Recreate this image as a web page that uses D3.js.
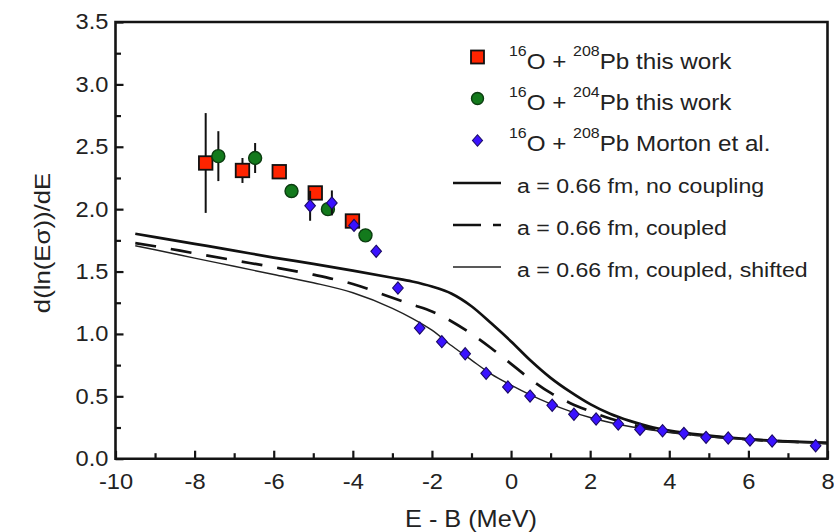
<!DOCTYPE html>
<html>
<head>
<meta charset="utf-8">
<script src="https://cdn.jsdelivr.net/npm/d3@7"></script>
<style>
  html, body { margin: 0; padding: 0; background: #fff; }
  svg { display: block; font-family: "Liberation Sans", Arial, Helvetica, sans-serif; }
</style>
</head>
<body>
<svg id="chart" width="834" height="532"></svg>
<script>
// ---- measured points ----
// 16O + 208Pb, this work
const pb208X   = [-7.72, -6.79, -5.86, -4.95, -4.01];
const pb208Y   = [2.37, 2.31, 2.30, 2.13, 1.905];
const pb208Err = [0.40, 0.10, 0, 0, 0];

// 16O + 204Pb, this work
const pb204X   = [-7.40, -6.47, -5.55, -4.63, -3.68];
const pb204Y   = [2.425, 2.41, 2.145, 2.00, 1.79];
const pb204Err = [0.20, 0.12, 0, 0, 0];

// 16O + 208Pb, Morton et al.
const mortonX   = [-5.08, -4.53, -3.97, -3.41, -2.86, -2.31, -1.75, -1.16, -0.63, -0.08, 0.48, 1.04,
                   1.59, 2.15, 2.71, 3.26, 3.83, 4.37, 4.93, 5.49, 6.04, 6.60, 7.70];
const mortonY   = [2.027, 2.05, 1.87, 1.662, 1.368, 1.047, 0.938, 0.841, 0.684, 0.575, 0.502, 0.428,
                   0.356, 0.318, 0.278, 0.235, 0.224, 0.203, 0.171, 0.166, 0.150, 0.142, 0.104];
const mortonErr = [0.12, 0.10, 0, 0, 0, 0, 0, 0, 0, 0, 0, 0, 0, 0, 0, 0, 0, 0, 0, 0, 0, 0, 0];

// ---- calculations (a = 0.66 fm) ----
const calcE      = [-9.5, -9, -8, -7, -6, -5, -4, -3, -2.5, -2, -1.5, -1, -0.5, 0, 0.5, 1, 1.5, 2, 2.5, 3, 3.5, 4, 5, 6, 7, 8];
const noCoupling = [1.803, 1.776, 1.722, 1.668, 1.612, 1.562, 1.508, 1.45, 1.42, 1.38, 1.322, 1.222, 1.085, 0.94,
                    0.785, 0.648, 0.535, 0.437, 0.36, 0.303, 0.258, 0.226, 0.186, 0.157, 0.139, 0.127];
const coupled    = [1.728, 1.703, 1.646, 1.59, 1.535, 1.475, 1.40, 1.29, 1.235, 1.18, 1.10, 1.00, 0.885, 0.76,
                    0.635, 0.527, 0.445, 0.38, 0.322, 0.277, 0.243, 0.217, 0.181, 0.154, 0.137, 0.125];
const shifted    = [1.707, 1.675, 1.608, 1.542, 1.476, 1.41, 1.33, 1.205, 1.125, 1.03, 0.905, 0.79, 0.678, 0.59,
                    0.51, 0.44, 0.38, 0.33, 0.29, 0.258, 0.232, 0.21, 0.176, 0.151, 0.133, 0.121];

// ---- axes ----
const xMajor = [-10, -8, -6, -4, -2, 0, 2, 4, 6, 8];
const xMinor = [-9, -7, -5, -3, -1, 1, 3, 5, 7];
const yMajor = [0, 0.5, 1.0, 1.5, 2.0, 2.5, 3.0, 3.5];
const yMinor = [0.25, 0.75, 1.25, 1.75, 2.25, 2.75, 3.25];

const legendLabels = [
  ["16", "O + ", "208", "Pb this work"],
  ["16", "O + ", "204", "Pb this work"],
  ["16", "O + ", "208", "Pb Morton et al."],
  "a = 0.66 fm, no coupling",
  "a = 0.66 fm, coupled",
  "a = 0.66 fm, coupled, shifted"
];

const xTitle = "E - B (MeV)";
const yTitle = "d(ln(E\u03C3))/dE";

// ---- layout ----
const plotLeft = 115.5, plotRight = 827.5, plotTop = 22, plotBottom = 458.7;
const stretch = 1.1;   // glyphs are a little wide in this figure style
const ink = "#141414";

const svg = d3.select("#chart");
const x = d3.scaleLinear().domain([-10, 8]).range([plotLeft, plotRight]);
const y = d3.scaleLinear().domain([0, 3.5]).range([plotBottom, plotTop]);

// axes with inward ticks (plain hyphen for negative numbers)
const gx = svg.append("g").attr("transform", `translate(0,${plotBottom})`)
  .call(d3.axisBottom(x).tickValues(xMajor).tickSize(-8).tickPadding(15).tickFormat(d => String(d)));
svg.append("g").attr("transform", `translate(0,${plotBottom})`)
  .call(d3.axisBottom(x).tickValues(xMinor).tickSize(-5.5).tickFormat(""));
const gy = svg.append("g").attr("transform", `translate(${plotLeft},0)`)
  .call(d3.axisLeft(y).tickValues(yMajor).tickSize(-8).tickPadding(7).tickFormat(d => d.toFixed(1)));
svg.append("g").attr("transform", `translate(${plotLeft},0)`)
  .call(d3.axisLeft(y).tickValues(yMinor).tickSize(-5.5).tickFormat(""));

svg.selectAll(".domain").remove();
svg.selectAll(".tick line").attr("stroke", ink).attr("stroke-width", 2.2);
svg.selectAll(".tick text")
  .attr("font-family", "'Liberation Sans', Arial, sans-serif")
  .attr("font-size", 21.5).attr("fill", "#222")
  .attr("transform", `scale(${stretch},1)`);
gy.selectAll(".tick text").attr("x", -7 / stretch);

// axis titles
svg.append("text")
  .attr("transform", `translate(${(plotLeft + plotRight) / 2 - 0.5},527) scale(${stretch},1)`)
  .attr("text-anchor", "middle").attr("font-size", 23).attr("fill", "#222")
  .text(xTitle);
svg.append("text")
  .attr("transform", `translate(50,243) rotate(-90) scale(1.12,1)`)
  .attr("text-anchor", "middle").attr("font-size", 23).attr("fill", "#222")
  .text(yTitle);

// ---- calculated curves ----
const plot = svg.append("g");
const line = d3.line().x(d => x(d[0])).y(d => y(d[1])).curve(d3.curveMonotoneX);
const pairs = vals => calcE.map((e, i) => [e, vals[i]]);

plot.append("path").datum(pairs(noCoupling)).attr("d", line)
  .attr("fill", "none").attr("stroke", "#111").attr("stroke-width", 2.7);
plot.append("path").datum(pairs(coupled)).attr("d", line)
  .attr("fill", "none").attr("stroke", "#111").attr("stroke-width", 2.7)
  .attr("stroke-dasharray", "21,15");
plot.append("path").datum(pairs(shifted)).attr("d", line)
  .attr("fill", "none").attr("stroke", "#222").attr("stroke-width", 1.4);

// ---- measured points ----
const diamond = s => `M0,${-s * 1.15}L${s},0L0,${s * 1.15}L${-s},0Z`;
const zip = (xs, ys, es) => xs.map((v, i) => ({ x: v, y: ys[i], e: es[i] }));

function errorBars(data) {
  plot.append("g").selectAll("line").data(data.filter(d => d.e > 0)).join("line")
    .attr("x1", d => x(d.x)).attr("x2", d => x(d.x))
    .attr("y1", d => y(d.y - d.e)).attr("y2", d => y(d.y + d.e))
    .attr("stroke", "#111").attr("stroke-width", 2);
}

const sq = zip(pb208X, pb208Y, pb208Err);
errorBars(sq);
plot.append("g").selectAll("rect").data(sq).join("rect")
  .attr("x", d => x(d.x) - 6.75).attr("y", d => y(d.y) - 6.75)
  .attr("width", 13.5).attr("height", 13.5)
  .attr("fill", "#ff2400").attr("stroke", "#111").attr("stroke-width", 1.8);

const ci = zip(pb204X, pb204Y, pb204Err);
errorBars(ci);
plot.append("g").selectAll("circle").data(ci).join("circle")
  .attr("cx", d => x(d.x)).attr("cy", d => y(d.y)).attr("r", 6.5)
  .attr("fill", "#137a1c").attr("stroke", "#0b3d10").attr("stroke-width", 1.4);

const di = zip(mortonX, mortonY, mortonErr);
errorBars(di);
plot.append("g").selectAll("path").data(di).join("path")
  .attr("transform", d => `translate(${x(d.x)},${y(d.y)})`)
  .attr("d", diamond(5.3))
  .attr("fill", "#3a12ff").attr("stroke", "#1a0a66").attr("stroke-width", 1.1);

// ---- legend ----
const lg = svg.append("g");
const rowBase = [68.5, 110, 151, 193, 235, 277];
const mx = 477.5;

lg.append("rect").attr("x", mx - 6.5).attr("y", rowBase[0] - 18).attr("width", 13).attr("height", 13)
  .attr("fill", "#ff2400").attr("stroke", "#111").attr("stroke-width", 1.8);
lg.append("circle").attr("cx", mx).attr("cy", rowBase[1] - 11.5).attr("r", 6)
  .attr("fill", "#137a1c").attr("stroke", "#0b3d10").attr("stroke-width", 1.4);
lg.append("path").attr("transform", `translate(${mx},${rowBase[2] - 10.5})`).attr("d", diamond(5))
  .attr("fill", "#3a12ff").attr("stroke", "#1a0a66").attr("stroke-width", 1.1);

lg.append("line").attr("x1", 453).attr("x2", 501).attr("y1", rowBase[3] - 10).attr("y2", rowBase[3] - 10)
  .attr("stroke", "#111").attr("stroke-width", 2.7);
lg.append("line").attr("x1", 453).attr("x2", 501).attr("y1", rowBase[4] - 10).attr("y2", rowBase[4] - 10)
  .attr("stroke", "#111").attr("stroke-width", 2.7).attr("stroke-dasharray", "28,12,8");
lg.append("line").attr("x1", 453).attr("x2", 501).attr("y1", rowBase[5] - 10).attr("y2", rowBase[5] - 10)
  .attr("stroke", "#222").attr("stroke-width", 1.4);

legendLabels.forEach((lab, i) => {
  const isMarker = Array.isArray(lab);
  const t = lg.append("text")
    .attr("transform", `translate(${isMarker ? 509 : 517},${rowBase[i]}) scale(${stretch},1)`)
    .attr("font-size", 21).attr("fill", "#222");
  if (isMarker) {
    t.append("tspan").attr("font-size", 14.5).attr("dy", -13).text(lab[0]);
    t.append("tspan").attr("font-size", 22).attr("dy", 13).text(lab[1]);
    t.append("tspan").attr("font-size", 14.5).attr("dy", -13).text(lab[2]);
    t.append("tspan").attr("font-size", 22).attr("dy", 13).text(lab[3]);
  } else {
    t.text(lab);
  }
});

// frame around the plotting area, drawn last so it sits on top
svg.append("path")
  .attr("d", `M${plotLeft},${plotTop}H${plotRight}V${plotBottom}H${plotLeft}Z`)
  .attr("fill", "none").attr("stroke", ink).attr("stroke-width", 2.6);
</script>
</body>
</html>
